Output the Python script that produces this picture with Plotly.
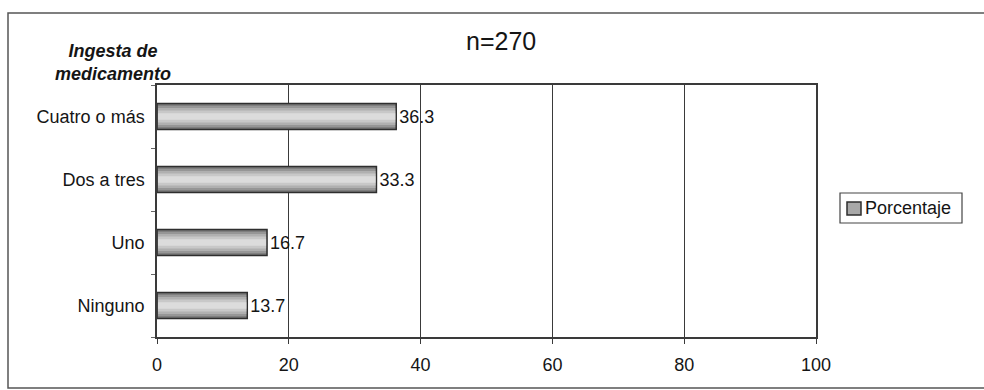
import plotly.graph_objects as go

# Medication intake categories and their share (%)
categorias = ["Ninguno", "Uno", "Dos a tres", "Cuatro o más"]
porcentaje = [13.7, 16.7, 33.3, 36.3]
ticks_x = [0, 20, 40, 60, 80, 100]
serie = "Porcentaje"

FONT = "Arial, Liberation Sans, sans-serif"

# Plot-area geometry in pixels (used to place the paper-space extras)
W, H = 984, 390
L, R, T, B = 157, 168, 85, 53
PW, PH = W - L - R, H - T - B


def px(x):
    return (x - L) / PW


def py(y):
    return (H - B - y) / PH


fig = go.Figure()

# Outer bar carrying the border and value labels
fig.add_trace(go.Bar(
    y=categorias, x=porcentaje, orientation="h",
    name=serie, width=0.41, showlegend=False,
    marker=dict(color="#777777", line=dict(color="#2e2e2e", width=1.5)),
    text=[f"{v:.1f}" for v in porcentaje], textposition="outside",
    textfont=dict(family=FONT, size=18, color="#151515"),
    cliponaxis=False,
))

# Narrower, lighter overlays give the bars a shaded cylinder look
shades = [(0.34, "#969696"), (0.27, "#b0b0b0"), (0.19, "#c8c8c8"), (0.10, "#dcdcdc")]
for w, c in shades:
    fig.add_trace(go.Bar(
        y=categorias, x=[v - 0.3 for v in porcentaje], base=0.15,
        orientation="h", width=w, showlegend=False, hoverinfo="skip",
        marker=dict(color=c, line=dict(width=0)),
    ))

fig.update_layout(
    width=W, height=H,
    margin=dict(l=L, r=R, t=T, b=B),
    paper_bgcolor="white", plot_bgcolor="white",
    barmode="overlay", showlegend=False,
    font=dict(family=FONT, size=18, color="#151515"),
    xaxis=dict(
        range=[0, 100], tickvals=ticks_x, ticktext=[str(t) for t in ticks_x],
        showgrid=True, gridcolor="#3a3a3a", gridwidth=1,
        showline=True, linecolor="#3a3a3a", linewidth=1.5, mirror=True,
        ticks="outside", ticklen=5, tickcolor="#3a3a3a",
        ticklabelstandoff=6,
        tickfont=dict(family=FONT, size=18), zeroline=False,
        fixedrange=True,
    ),
    yaxis=dict(
        categoryorder="array", categoryarray=categorias,
        showline=True, linecolor="#3a3a3a", linewidth=1.5, mirror=True,
        ticks="outside", ticklen=4, tickcolor="#666666", tickson="boundaries",
        ticklabelstandoff=7,
        tickfont=dict(family=FONT, size=18), showgrid=False,
        fixedrange=True,
    ),
    annotations=[
        dict(text="n=270", x=px(501), y=py(41), xref="paper", yref="paper",
             xanchor="center", yanchor="middle", showarrow=False,
             font=dict(family=FONT, size=25, color="#151515")),
        dict(text="<b><i>Ingesta de<br>medicamento</i></b>", x=px(113), y=py(62),
             xref="paper", yref="paper", xanchor="center", yanchor="middle",
             showarrow=False, align="center",
             font=dict(family=FONT, size=18, color="#151515")),
        # legend label
        dict(text=serie, x=px(863), y=py(208), xref="paper", yref="paper",
             xanchor="left", yanchor="middle", showarrow=False,
             font=dict(family=FONT, size=18, color="#151515")),
    ],
    shapes=[
        # frame around the whole chart
        dict(type="rect", xref="paper", yref="paper",
             x0=px(8), x1=px(1000), y0=py(388), y1=py(13),
             line=dict(color="#555555", width=1.5), fillcolor="rgba(0,0,0,0)",
             layer="below"),
        # legend box
        dict(type="rect", xref="paper", yref="paper",
             x0=px(840), x1=px(962), y0=py(223), y1=py(193),
             line=dict(color="#444444", width=1.2), fillcolor="white"),
        # legend swatch
        dict(type="rect", xref="paper", yref="paper",
             x0=px(847), x1=px(861), y0=py(215), y1=py(202),
             line=dict(color="#2e2e2e", width=1.5), fillcolor="#a8a8a8"),
    ],
)

fig.write_html("out.html")
